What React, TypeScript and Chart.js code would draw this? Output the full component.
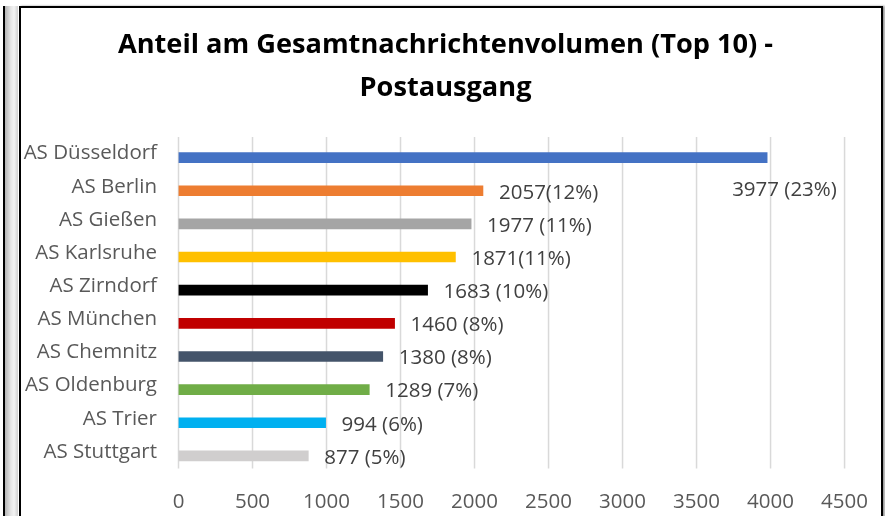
import React, { useEffect, useRef } from "react";
import { Chart, registerables } from "chart.js";

Chart.register(...registerables);

const titleLines = ["Anteil am Gesamtnachrichtenvolumen (Top 10) -", "Postausgang"];

const categories = [
  "AS Düsseldorf",
  "AS Berlin",
  "AS Gießen",
  "AS Karlsruhe",
  "AS Zirndorf",
  "AS München",
  "AS Chemnitz",
  "AS Oldenburg",
  "AS Trier",
  "AS Stuttgart",
];

const values = [3977, 2057, 1977, 1871, 1683, 1460, 1380, 1289, 994, 877];

const valueLabels = [
  "3977 (23%)",
  "2057(12%)",
  "1977 (11%)",
  "1871(11%)",
  "1683 (10%)",
  "1460 (8%)",
  "1380 (8%)",
  "1289 (7%)",
  "994 (6%)",
  "877 (5%)",
];

const barColors = [
  "#4472C4",
  "#ED7D31",
  "#A5A5A5",
  "#FFC000",
  "#000000",
  "#C00000",
  "#44546A",
  "#70AD47",
  "#00B0F0",
  "#D0CECE",
];

const xMin = 0;
const xMax = 4500;
const xStep = 500;

const FONT = "'Open Sans', Lato, sans-serif";
const TEXT_SIZE = 20.5;
const TITLE_SIZE = 27.2;

// Placement (style, not data)
const LABEL_DX = 16;
const LABEL_DY = 2;
const LABEL_OVERRIDE = { index: 0, dx: -51, dy: 31 };
const GRID_SHIFT = -4;
const TITLE_CX_SHIFT = 3;
const TITLE_Y0 = 45;
const TITLE_LINE_H = 43;

const titlePlugin = {
  id: "boxTitle",
  afterDraw(chart: any) {
    const ctx = chart.ctx;
    ctx.save();
    ctx.font = `bold ${TITLE_SIZE}px ${FONT}`;
    ctx.fillStyle = "#000000";
    ctx.textAlign = "center";
    ctx.textBaseline = "middle";
    const cx = chart.width / 2 + TITLE_CX_SHIFT;
    titleLines.forEach((line, i) => {
      ctx.fillText(line, cx, TITLE_Y0 + i * TITLE_LINE_H);
    });
    ctx.restore();
  },
};

const gridPlugin = {
  id: "shiftedGrid",
  beforeDatasetsDraw(chart: any) {
    const { ctx, chartArea, scales } = chart;
    const xs = scales.x;
    ctx.save();
    ctx.strokeStyle = "#D9D9D9";
    ctx.lineWidth = 1.5;
    xs.ticks.forEach((t: any) => {
      const px = xs.getPixelForValue(t.value);
      ctx.beginPath();
      ctx.moveTo(px, chartArea.top + GRID_SHIFT);
      ctx.lineTo(px, chartArea.bottom + GRID_SHIFT);
      ctx.stroke();
    });
    ctx.restore();
  },
};

const valueLabelPlugin = {
  id: "valueLabels",
  afterDatasetsDraw(chart: any) {
    const ctx = chart.ctx;
    const meta = chart.getDatasetMeta(0);
    ctx.save();
    ctx.font = `${TEXT_SIZE}px ${FONT}`;
    ctx.fillStyle = "#404040";
    ctx.textAlign = "left";
    ctx.textBaseline = "middle";
    meta.data.forEach((el: any, i: number) => {
      let x = el.x + LABEL_DX;
      let y = el.y + LABEL_DY;
      if (i === LABEL_OVERRIDE.index) {
        x += LABEL_OVERRIDE.dx;
        y += LABEL_OVERRIDE.dy;
      }
      ctx.fillText(valueLabels[i], x, y);
    });
    ctx.restore();
  },
};

export default function App() {
  const ref = useRef<HTMLCanvasElement | null>(null);

  useEffect(() => {
    if (!ref.current) return;
    const chart = new Chart(ref.current, {
      type: "bar",
      data: {
        labels: categories,
        datasets: [
          {
            data: values,
            backgroundColor: barColors,
            borderWidth: 0,
            barThickness: 10,
          },
        ],
      },
      options: {
        indexAxis: "y",
        animation: false,
        responsive: false,
        maintainAspectRatio: false,
        layout: { padding: { left: 21, right: 32, top: 141, bottom: 0 } },
        plugins: {
          legend: { display: false },
          tooltip: { enabled: false },
          title: { display: false },
        },
        scales: {
          x: {
            type: "linear",
            min: xMin,
            max: xMax,
            ticks: {
              stepSize: xStep,
              color: "#595959",
              font: { family: FONT, size: TEXT_SIZE },
              padding: 17,
              maxRotation: 0,
              callback: (v: any) => String(v),
            },
            grid: { display: false, drawTicks: false },
            border: { display: false },
            afterFit: (scale: any) => {
              scale.height = 43.5;
            },
          },
          y: {
            ticks: {
              color: "#595959",
              font: { family: FONT, size: TEXT_SIZE },
              padding: 21.5,
              autoSkip: false,
              labelOffset: -4,
            },
            grid: { display: false, drawTicks: false },
            border: { display: false },
            afterFit: (scale: any) => {
              scale.width = 157.5;
            },
          },
        },
      },
      plugins: [gridPlugin, valueLabelPlugin, titlePlugin],
    });
    return () => chart.destroy();
  }, []);

  return (
    <div style={{ position: "fixed", left: 0, top: 0, width: 885, height: 516, background: "#fff", overflow: "hidden" }}>
      <div style={{ position: "absolute", left: 3, top: 6, width: 2, height: 520, background: "#000" }} />
      <div
        style={{
          position: "absolute",
          left: 5,
          top: 6,
          width: 13,
          height: 520,
          background: "linear-gradient(to right, #b5b5b5, #e6e6e6 45%, #f4f4f4 70%, #d0d0d0)",
        }}
      />
      <div
        style={{
          position: "absolute",
          left: 19,
          top: 6,
          width: 864,
          height: 530,
          border: "2px solid #000",
          boxSizing: "border-box",
          boxShadow: "2px 0 2px #999",
          background: "#fff",
        }}
      />
      <canvas ref={ref} width={885} height={516} style={{ position: "absolute", left: 0, top: 0, display: "block" }} />
    </div>
  );
}
